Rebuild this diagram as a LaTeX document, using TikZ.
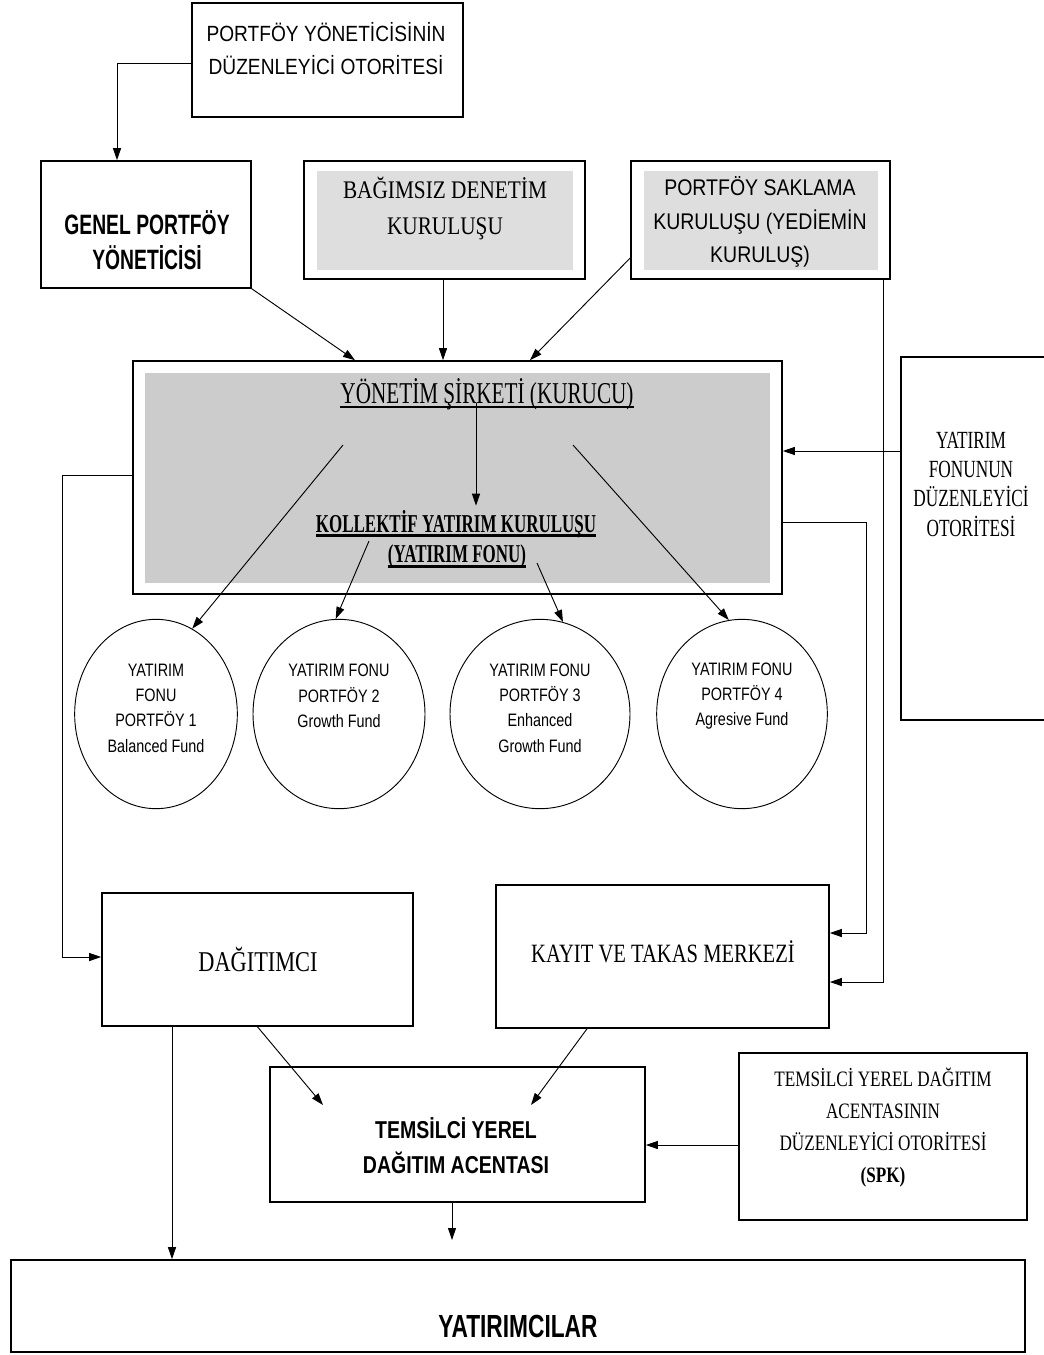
\documentclass[tikz,border=0pt]{standalone}
\usepackage{fontspec}
\setmainfont{Liberation Serif}
\usetikzlibrary{arrows.meta,shapes.geometric,fit}
\newfontfamily\fTop[FakeStretch=0.87]{Liberation Sans}
\newfontfamily\fSak[FakeStretch=0.86]{Liberation Sans}
\newfontfamily\fGen[FakeStretch=0.69]{Liberation Sans}
\newfontfamily\fTya[FakeStretch=0.80]{Liberation Sans}
\newfontfamily\fYat[FakeStretch=0.71]{Liberation Sans}
\newfontfamily\fCirc[FakeStretch=0.80]{Liberation Sans}
\newfontfamily\fSerA[FakeStretch=0.84]{Liberation Serif}
\newfontfamily\fSerB[FakeStretch=0.78]{Liberation Serif}
\newfontfamily\fSerE[FakeStretch=0.70]{Liberation Serif}
\newfontfamily\fSerC[FakeStretch=0.70]{Liberation Serif}
\newfontfamily\fSerD[FakeStretch=0.66]{Liberation Serif}
\definecolor{grayA}{HTML}{CCCCCC}
\definecolor{grayB}{HTML}{DEDEDE}
\begin{document}
\begin{tikzpicture}[x=0.75pt,y=-0.75pt,
  box/.style={draw, line width=1.2pt, inner sep=0pt},
  conn/.style={line width=0.7pt},
  arr/.style={conn, -{Triangle[length=9pt,width=6pt]}},
  txt/.style={align=center, inner sep=0pt},
  fund/.style={draw, ellipse, line width=0.7pt, inner sep=0pt, minimum height=142pt},
  ul/.style={line width=1.8pt}
]
\useasboundingbox (0,0) rectangle (1044,1355);
\fill[white] (0,0) rectangle (1044,1355);

% gray fills
\fill[grayB] (317,171) rectangle (573,270);
\fill[grayB] (644,171) rectangle (878,270);
\fill[grayA] (145,373) rectangle (770,583);

% boxes
\node[box, fit={(192,3) (463,117)}] (tpo) {};
\node[box, fit={(41,161) (251,288)}] (gpy) {};
\node[box, fit={(304,161) (585,279)}] (bdk) {};
\node[box, fit={(631,161) (890,279)}] (psk) {};
\node[box, fit={(133,361) (782,594)}] (ysk) {};
\node[box, fit={(901,357) (1050,720)}] (yfd) {};
\node[box, fit={(102,893) (413,1026)}] (dag) {};
\node[box, fit={(496,885) (829,1028)}] (kyt) {};
\node[box, fit={(270,1067) (645,1202)}] (tya) {};
\node[box, fit={(739,1053) (1027,1220)}] (spk) {};
\node[box, fit={(11,1260) (1025,1352)}] (yat) {};

% funds
\node[fund, minimum width=122pt] (c1) at (156,714) {};
\node[fund, minimum width=129pt] (c2) at (339,714) {};
\node[fund, minimum width=135pt] (c3) at (540,714) {};
\node[fund, minimum width=128pt] (c4) at (742,714) {};

% texts
\node[txt, font={\fTop\fontsize{16.5}{24.75}\selectfont}] (tpoT) at (326,49) {PORTFÖY YÖNETİCİSİNİN\\DÜZENLEYİCİ OTORİTESİ};
\node[txt, font={\fGen\bfseries\fontsize{21}{26.25}\selectfont}] (gpyT) at (147,240) {GENEL PORTFÖY\\YÖNETİCİSİ};
\node[txt, font={\fSerA\fontsize{19}{27}\selectfont}] (bdkT) at (445,208) {BAĞIMSIZ DENETİM\\KURULUŞU};
\node[txt, font={\fSak\fontsize{17}{25}\selectfont}] (pskT) at (760,222) {PORTFÖY SAKLAMA\\KURULUŞU (YEDİEMİN\\KURULUŞ)};
\node[txt, font={\fSerE\fontsize{18.5}{22}\selectfont}] (yfdT) at (971,484) {YATIRIM\\FONUNUN\\DÜZENLEYİCİ\\OTORİTESİ};

\node[anchor=base, inner sep=0pt, font={\fSerC\fontsize{22.7}{27}\selectfont}] (ttl) at (487,403) {YÖNETİM ŞİRKETİ (KURUCU)};
\draw[ul] ([yshift=-3pt]ttl.base west) -- ([yshift=-3pt]ttl.base east);
\node[anchor=base, inner sep=0pt, font={\fSerD\bfseries\fontsize{19.3}{24}\selectfont}] (kol) at (456,532) {KOLLEKTİF YATIRIM KURULUŞU};
\draw[ul] ([yshift=-2.5pt]kol.base west) -- ([yshift=-2.5pt]kol.base east);
\node[anchor=base, inner sep=0pt, font={\fSerD\bfseries\fontsize{19.3}{24}\selectfont}] (fon) at (457,562) {(YATIRIM FONU)};
\draw[ul] ([yshift=-3.5pt]fon.base west) -- ([yshift=-3.5pt]fon.base east);

\node[txt, font={\fCirc\fontsize{13.5}{19}\selectfont}] (c1T) at (156,708) {YATIRIM\\FONU\\PORTFÖY 1\\Balanced Fund};
\node[txt, font={\fCirc\fontsize{13.5}{19}\selectfont}] (c2T) at (339,696) {YATIRIM FONU\\PORTFÖY 2\\Growth Fund};
\node[txt, font={\fCirc\fontsize{13.5}{19}\selectfont}] (c3T) at (540,708) {YATIRIM FONU\\PORTFÖY 3\\Enhanced\\Growth Fund};
\node[txt, font={\fCirc\fontsize{13.5}{19}\selectfont}] (c4T) at (742,696) {YATIRIM FONU\\PORTFÖY 4\\Agresive Fund};

\node[txt, font={\fSerB\fontsize{21.5}{26}\selectfont}] (dagT) at (258,960) {DAĞITIMCI};
\node[txt, font={\fSerB\fontsize{19.8}{26}\selectfont}] (kytT) at (663,952) {KAYIT VE TAKAS MERKEZİ};
\node[txt, font={\fTya\bfseries\fontsize{18.3}{26.25}\selectfont}] (tyaT) at (456,1146) {TEMSİLCİ YEREL\\DAĞITIM ACENTASI};
\node[txt, font={\fSerB\fontsize{16.5}{24}\selectfont}] (spkT) at (883,1128) {TEMSİLCİ YEREL DAĞITIM\\ACENTASININ\\DÜZENLEYİCİ OTORİTESİ\\\textbf{(SPK)}};
\node[txt, font={\fYat\bfseries\fontsize{24}{28}\selectfont}] (yatT) at (518,1326) {YATIRIMCILAR};

% connectors
\draw[arr] (tpo.west |- 0,63) -| (gpy.north -| 117,0);
\draw[arr] (gpy.south east) -- (ysk.north -| 355,0);
\draw[arr] (bdk.south -| 443,0) -- (ysk.north -| 443,0);
\draw[arr] (psk.west |- 0,258) -- (ysk.north -| 530,0);
\draw[arr] (yfd.west |- 0,451) -- (ysk.east |- 0,451);
\draw[arr] (ttl.base -| 476,0) -- ([yshift=3pt]kol.north -| 476,0);

\coordinate (s1) at (343,445);
\coordinate (s2) at (369,541);
\coordinate (s3) at (537,563);
\coordinate (s4) at (573,445);
\draw[arr] (s1) -- (c1.67);
\draw[arr] (s2) -- (c2.92);
\draw[arr] (s3) -- (c3.76);
\draw[arr] (s4) -- (c4.98);

\draw[arr] (ysk.west |- 0,475) -- (62,475) |- (dag.west |- 0,957);
\draw[arr] (ysk.east |- 0,522) -- (866,522) |- (kyt.east |- 0,933);
\draw[arr] (psk.south -| 883,0) |- (kyt.east |- 0,982);

\coordinate (t1) at (323,1105);
\coordinate (t2) at (531,1105);
\coordinate (y2) at (452,1240);
\draw[arr] (dag.south) -- (t1);
\draw[arr] (kyt.south -| 587,0) -- (t2);
\draw[arr] (spk.west |- 0,1145) -- (tya.east |- 0,1145);
\draw[arr] (tya.south -| 452,0) -- (y2);
\draw[arr] (dag.south -| 172,0) -- (yat.north -| 172,0);
\end{tikzpicture}
\end{document}
